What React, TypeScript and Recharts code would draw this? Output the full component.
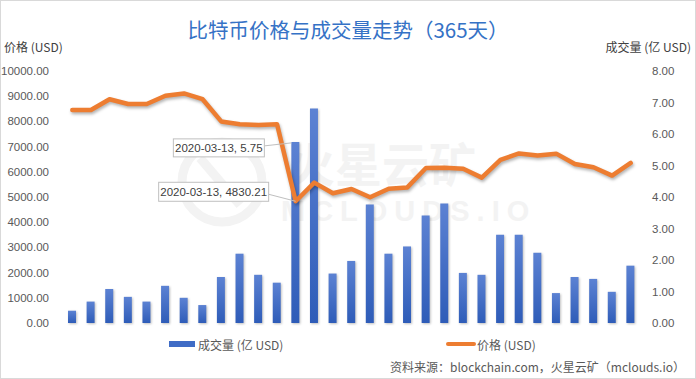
import React from 'react';
import { ComposedChart, Bar, Line, XAxis, YAxis, LabelList } from 'recharts';

const dates = [
  '2019-10-21', '2019-11-02', '2019-11-14', '2019-11-26', '2019-12-08', '2019-12-20', '2020-01-01',
  '2020-01-13', '2020-01-25', '2020-02-06', '2020-02-18', '2020-03-01', '2020-03-13', '2020-03-25',
  '2020-04-06', '2020-04-18', '2020-04-30', '2020-05-12', '2020-05-24', '2020-06-05', '2020-06-17',
  '2020-06-29', '2020-07-11', '2020-07-23', '2020-08-04', '2020-08-16', '2020-08-28', '2020-09-09',
  '2020-09-21', '2020-10-03', '2020-10-15',
];
const volume = [
  0.39, 0.68, 1.08, 0.83, 0.68, 1.18, 0.8, 0.57, 1.46, 2.2, 1.53, 1.28, 5.75, 6.81, 1.57, 1.97,
  3.76, 2.2, 2.43, 3.41, 3.79, 1.59, 1.53, 2.8, 2.8, 2.23, 0.95, 1.46, 1.4, 0.99, 1.82,
];
const price = [
  8450, 8450, 8880, 8690, 8690, 9020, 9110, 8880, 8000, 7890, 7860, 7890, 4830.21, 5570, 5150, 5320,
  4990, 5330, 5380, 6150, 6160, 6120, 5770, 6470, 6730, 6650, 6720, 6310, 6180, 5850, 6350,
];
const leftTicks = [0, 1000, 2000, 3000, 4000, 5000, 6000, 7000, 8000, 9000, 10000];
const rightTicks = [0, 1, 2, 3, 4, 5, 6, 7, 8];
const annotateIndex = 12;

const data = dates.map((d, i) => ({ date: d, volume: volume[i], price: price[i] }));

const FONT = '"Liberation Sans", "Noto Sans CJK SC", sans-serif';
const CJK = '"Noto Sans CJK SC", sans-serif';
const TICK_STYLE = { fontSize: 11.5, fill: '#595959', fontFamily: FONT };

const BarLabel = (props: any) => {
  const { x, y, width, value, index } = props;
  if (index !== annotateIndex) return null;
  const cx = x + width / 2;
  const bx = cx - 122;
  const by = y - 3;
  const bw = 91;
  const bh = 18;
  return (
    <g>
      <line x1={bx + bw} y1={by + 7} x2={x} y2={y + 1} stroke="#BFBFBF" strokeWidth={1} />
      <rect x={bx} y={by} width={bw} height={bh} fill="#fff" stroke="#BFBFBF" strokeWidth={1} />
      <text x={bx + bw / 2} y={by + bh / 2 + 4} textAnchor="middle" fontSize={11.5} fill="#404040" fontFamily={FONT}>
        {`${dates[index]}, ${Number(value).toFixed(2)}`}
      </text>
    </g>
  );
};

const LineLabel = (props: any) => {
  const { x, y, value, index } = props;
  if (index !== annotateIndex) return null;
  const bx = x - 137;
  const by = y - 19;
  const bw = 110;
  const bh = 19;
  return (
    <g>
      <line x1={bx + bw} y1={by + 12} x2={x} y2={y} stroke="#BFBFBF" strokeWidth={1} />
      <rect x={bx} y={by} width={bw} height={bh} fill="#fff" stroke="#BFBFBF" strokeWidth={1} />
      <text x={bx + bw / 2} y={by + bh / 2 + 4} textAnchor="middle" fontSize={11.5} fill="#404040" fontFamily={FONT}>
        {`${dates[index]}, ${Number(value).toFixed(2)}`}
      </text>
    </g>
  );
};

export default function App() {
  return (
    <div
      style={{
        position: 'absolute',
        left: 0,
        top: 0,
        width: 696,
        height: 379,
        boxSizing: 'border-box',
        border: '1px solid #D9D9D9',
        background: '#fff',
        fontFamily: FONT,
        overflow: 'hidden',
      }}
    >
      <svg width={696} height={379} style={{ position: 'absolute', left: -1, top: -1 }}>
        <circle cx={222} cy={182} r={40} fill="none" stroke="#F3F3F3" strokeWidth={9} />
        <line x1={200} y1={158} x2={240} y2={205} stroke="#F3F3F3" strokeWidth={9} />
        <text x={288} y={182} fontSize={47} fill="#F3F3F3" fontFamily={CJK} fontWeight={700}>
          火星云矿
        </text>
        <text x={281} y={221} fontSize={29} fill="#F3F3F3" fontFamily={FONT} fontWeight={700} letterSpacing={7}>
          MCLOUDS.IO
        </text>
      </svg>
      <div style={{ position: 'absolute', left: -1, top: -1 }}>
        <ComposedChart
          width={696}
          height={379}
          data={data}
          margin={{ top: 71, right: 0, bottom: 56, left: 0 }}
          barCategoryGap="28%"
        >
          <defs>
            <linearGradient id="barGrad" x1="0" y1="0" x2="0" y2="1">
              <stop offset="0%" stopColor="#5C82D3" />
              <stop offset="100%" stopColor="#2E5CB8" />
            </linearGradient>
          </defs>
          <XAxis dataKey="date" hide />
          <YAxis
            yAxisId="left"
            orientation="left"
            width={63}
            domain={[0, 10000]}
            ticks={leftTicks}
            tickFormatter={(v: number) => v.toFixed(2)}
            tickLine={false}
            axisLine={false}
            tickSize={0}
            tickMargin={14}
            tick={TICK_STYLE}
            interval={0}
          />
          <YAxis
            yAxisId="right"
            orientation="right"
            width={56}
            domain={[0, 8]}
            ticks={rightTicks}
            tickFormatter={(v: number) => v.toFixed(2)}
            tickLine={false}
            axisLine={false}
            tickSize={0}
            tickMargin={12}
            tick={TICK_STYLE}
            interval={0}
          />
          <Bar
            yAxisId="right"
            dataKey="volume"
            fill="url(#barGrad)"
            barSize={8}
            isAnimationActive={false}
            style={{ filter: 'drop-shadow(1px 1px 1px rgba(0,0,0,0.25))' }}
          >
            <LabelList dataKey="volume" content={BarLabel} />
          </Bar>
          <Line
            yAxisId="left"
            dataKey="price"
            stroke="#ED7D31"
            strokeWidth={4.5}
            dot={false}
            activeDot={false}
            type="linear"
            strokeLinejoin="round"
            strokeLinecap="round"
            isAnimationActive={false}
            style={{ filter: 'drop-shadow(1px 2px 1.5px rgba(0,0,0,0.3))' }}
          >
            <LabelList dataKey="price" content={LineLabel} />
          </Line>
        </ComposedChart>
      </div>
      <div
        style={{
          position: 'absolute',
          left: 0,
          width: 694,
          top: 13,
          textAlign: 'center',
          fontSize: 20.5,
          color: '#3572C6',
          fontFamily: CJK,
          lineHeight: '30px',
        }}
      >
        比特币价格与成交量走势（365天）
      </div>
      <div style={{ position: 'absolute', left: 3, top: 38, fontSize: 12, color: '#404040', fontFamily: CJK, lineHeight: '16px' }}>
        价格 (USD)
      </div>
      <div style={{ position: 'absolute', right: 4, top: 38, fontSize: 12, color: '#404040', fontFamily: CJK, lineHeight: '16px' }}>
        成交量 (亿 USD)
      </div>
      <div style={{ position: 'absolute', left: 168, top: 335, height: 16, display: 'flex', alignItems: 'center', fontSize: 12, color: '#595959', fontFamily: CJK }}>
        <span style={{ display: 'inline-block', width: 26, height: 6, background: '#3F6CC6', marginRight: 3 }} />
        成交量 (亿 USD)
      </div>
      <div style={{ position: 'absolute', left: 445, top: 335, height: 16, display: 'flex', alignItems: 'center', fontSize: 12, color: '#595959', fontFamily: CJK }}>
        <span style={{ display: 'inline-block', width: 30, height: 4, borderRadius: 2, background: '#ED7D31', marginRight: 1 }} />
        价格 (USD)
      </div>
      <div style={{ position: 'absolute', right: 10, top: 358, fontSize: 12, color: '#595959', fontFamily: CJK, lineHeight: '16px' }}>
        资料来源：blockchain.com，火星云矿（mclouds.io）
      </div>
    </div>
  );
}
